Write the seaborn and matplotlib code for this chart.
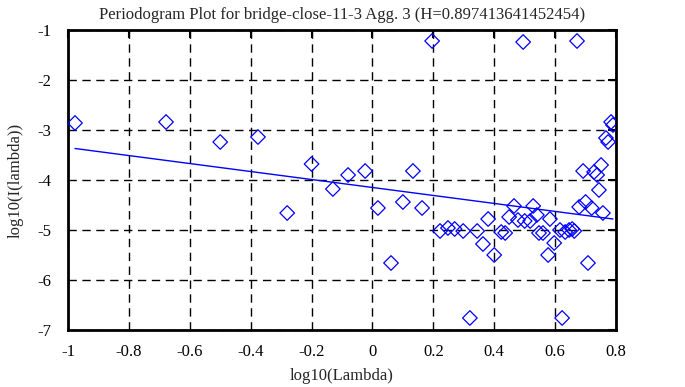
import matplotlib
matplotlib.use("Agg")
import matplotlib.pyplot as plt
import seaborn as sns
import pandas as pd

# periodogram points: log10(lambda), log10(I(lambda))
log_lambda = [-0.977, -0.678, -0.50, -0.376, -0.28, -0.20, -0.13, -0.08, -0.024,
              0.018, 0.061, 0.10, 0.133, 0.163, 0.196, 0.222, 0.248, 0.27, 0.298,
              0.32, 0.344, 0.363, 0.38, 0.40, 0.423, 0.436, 0.449, 0.465, 0.478,
              0.495, 0.50, 0.518, 0.528, 0.54, 0.547, 0.56, 0.577, 0.583, 0.597,
              0.616, 0.623, 0.633, 0.646, 0.656, 0.663, 0.672, 0.679, 0.692, 0.70,
              0.708, 0.72, 0.728, 0.738, 0.744, 0.751, 0.757, 0.767, 0.774, 0.784, 0.79]
log_power = [-2.86, -2.84, -3.24, -3.14, -4.66, -3.68, -4.18, -3.90, -3.82,
             -4.56, -5.66, -4.44, -3.82, -4.56, -1.22, -5.02, -4.96, -4.98, -5.02,
             -6.76, -5.02, -5.28, -4.78, -5.50, -5.04, -5.06, -4.74, -4.52, -4.80,
             -1.24, -4.82, -4.82, -4.52, -4.70, -5.06, -5.06, -5.50, -4.78, -5.26,
             -5.00, -6.76, -5.04, -5.00, -4.98, -5.02, -1.22, -4.54, -3.82, -4.44,
             -5.66, -4.56, -3.84, -3.90, -4.20, -3.70, -4.66, -3.16, -3.24, -2.84, -2.90]

# least-squares line endpoints (slope = 1 - 2H)
fit_x = [-0.977, 0.79]
fit_y = [-3.37, -4.78]

title = "Periodogram Plot for bridge-close-11-3 Agg. 3 (H=0.897413641452454)"

sns.set_style("white")
plt.rcParams['font.family'] = ['Liberation Serif', 'DejaVu Serif']

df = pd.DataFrame({"x": log_lambda, "y": log_power})

fig = plt.figure(figsize=(6.85, 3.87), dpi=100)
ax = fig.add_axes([68 / 685, 1 - 330 / 387, 548 / 685, 300 / 387])

sns.scatterplot(data=df, x="x", y="y", marker="D", s=55, facecolors="none",
                edgecolor="#0000ff", linewidth=0.9, ax=ax, zorder=3)
sns.lineplot(x=fit_x, y=fit_y, color="#0000ff", linewidth=1.0, ax=ax, zorder=4)

ax.set_xlim(-1, 0.8)
ax.set_ylim(-7, -1)
ax.set_xticks([-1, -0.8, -0.6, -0.4, -0.2, 0, 0.2, 0.4, 0.6, 0.8])
ax.set_xticklabels(["-1", "-0.8", "-0.6", "-0.4", "-0.2", "0", "0.2", "0.4", "0.6", "0.8"])
ax.set_yticks([-7, -6, -5, -4, -3, -2, -1])
ax.set_yticklabels(["-7", "-6", "-5", "-4", "-3", "-2", "-1"])
ax.grid(True, color="black", linestyle=(0, (6, 4)), linewidth=1.0)
ax.tick_params(direction="in", length=6, width=1.5, top=True, right=True,
               colors="black", labelsize=12)
ax.tick_params(axis="x", pad=10)
ax.tick_params(axis="y", pad=12)
for sp in ax.spines.values():
    sp.set_color("black")
    sp.set_linewidth(2)

ax.set_xlabel("log10(Lambda)", fontsize=12, labelpad=6)
ax.set_ylabel("log10(I(lambda))", fontsize=12, labelpad=10)
ax.set_title(title, fontsize=12, pad=8)

fig.savefig("out.png", dpi=100)
